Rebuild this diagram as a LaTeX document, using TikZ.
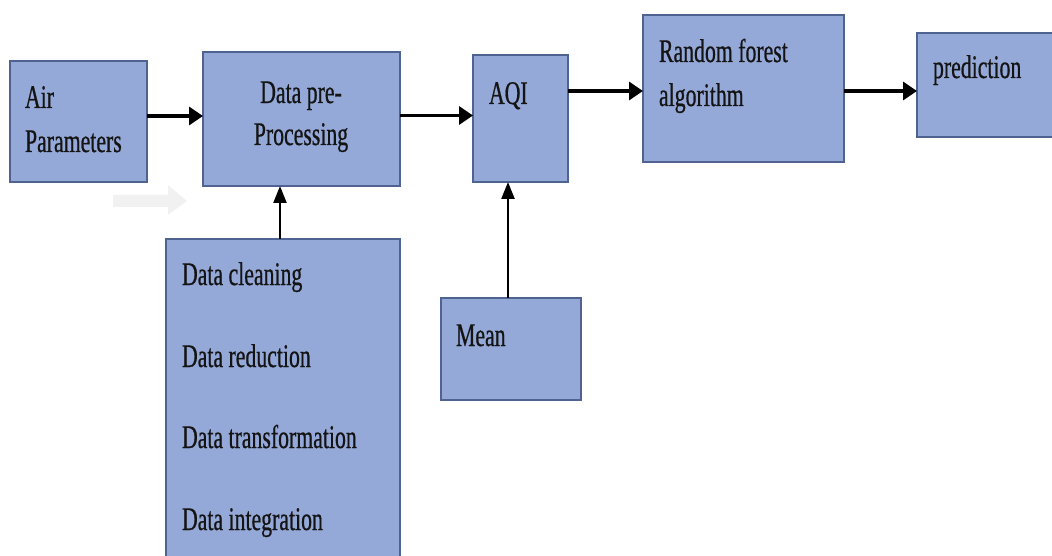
\documentclass[tikz,border=0pt]{standalone}
\usepackage{fontspec}
\setmainfont{Liberation Serif}[FakeStretch=0.66,FakeBold=0.6]
\usetikzlibrary{arrows.meta}
\definecolor{boxfill}{HTML}{95A9D8}
\definecolor{boxline}{HTML}{4F6390}
\definecolor{txt}{HTML}{141414}
\definecolor{ghost}{HTML}{F1F1F1}
\tikzset{
  blk/.style={draw=boxline, fill=boxfill, line width=1.3pt, rectangle, inner sep=0pt, outer sep=0pt, anchor=north west},
  lbl/.style={inner sep=0pt, outer sep=0pt, anchor=base west, text=txt, font=\fontsize{33}{44}\selectfont},
  lblc/.style={lbl, anchor=base},
  harr/.style={line width=3.4pt, -{Triangle[length=14pt,width=18pt]}},
  varr/.style={line width=2.4pt, -{Triangle[length=17pt,width=13pt]}}
}
\begin{document}
\begin{tikzpicture}[x=1pt,y=-1pt]
\useasboundingbox (0,0) rectangle (1052,556);
\clip (0,0) rectangle (1052,556);
% boxes
\node[blk, minimum width=137pt, minimum height=121pt] (air) at (10,61) {};
\node[blk, minimum width=197pt, minimum height=134pt] (pre) at (203,52) {};
\node[blk, minimum width=234pt, minimum height=330pt] (list) at (166,239) {};
\node[blk, minimum width=95pt, minimum height=127pt] (aqi) at (473,55) {};
\node[blk, minimum width=140pt, minimum height=102pt] (mean) at (441,298) {};
\node[blk, minimum width=201pt, minimum height=147pt] (rf) at (643,15) {};
\node[blk, minimum width=150pt, minimum height=104pt] (pred) at (917,33) {};
% faint arrow
\fill[ghost] (113,195) -- (168,195) -- (168,185) -- (187,201) -- (168,215) -- (168,207) -- (113,207) -- cycle;
% labels
\node[lbl] (t1) at (25,108) {Air};
\node[lbl] (t2) at (25,152) {Parameters};
\node[lblc] (t3) at (301,103) {Data pre-};
\node[lblc] (t4) at (301,145) {Processing};
\node[lbl] (t5) at (182,285) {Data cleaning};
\node[lbl] (t6) at (182,367) {Data reduction};
\node[lbl] (t7) at (182,448) {Data transformation};
\node[lbl] (t8) at (182,530) {Data integration};
\node[lbl] (t9) at (489,104) {AQI};
\node[lbl] (t10) at (456,346) {Mean};
\node[lbl] (t11) at (659,62) {Random forest};
\node[lbl] (t12) at (659,106) {algorithm};
\node[lbl] (t13) at (933,78) {prediction};
% connectors
\draw[harr] ([yshift=5.5pt]air.east) -- ([yshift=5.5pt]air.east -| pre.west);
\draw[harr] ([yshift=3.5pt]pre.east) -- ([yshift=3.5pt]pre.east -| aqi.west);
\draw[harr] ([yshift=-2.5pt]rf.west -| aqi.east) -- ([yshift=-2.5pt]rf.west);
\draw[harr] ([yshift=-2.5pt]rf.east) -- ([yshift=-2.5pt]rf.east -| pred.west);
\draw[varr] ([xshift=-3pt]list.north) -- ([xshift=-3pt]list.north |- pre.south);
\draw[varr] ([xshift=-3pt]mean.north) -- ([xshift=-3pt]mean.north |- aqi.south);
\end{tikzpicture}
\end{document}
